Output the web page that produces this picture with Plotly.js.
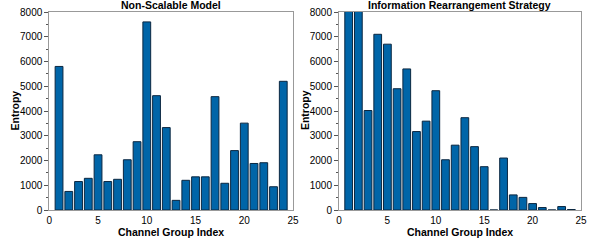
<!DOCTYPE html>
<html><head><meta charset="utf-8">
<script src="https://cdn.plot.ly/plotly-3.0.1.min.js"></script>
<style>html,body{margin:0;padding:0;background:#fff}#c{width:591px;height:241px}</style>
</head><body><div id="c"></div>
<script>
const groups = [1,2,3,4,5,6,7,8,9,10,11,12,13,14,15,16,17,18,19,20,21,22,23,24];
const nonScalable = [5800,750,1150,1280,2230,1150,1240,2030,2760,7600,4620,3330,390,1200,1340,1340,4580,1080,2400,3510,1880,1910,940,5200];
const rearranged = [9500,8800,4020,7100,6700,4900,5700,3170,3590,4820,2030,2620,3730,2560,1750,0,2100,610,510,260,100,0,140,20];
const titles = ["Non-Scalable Model","Information Rearrangement Strategy"];
const xTitle = "Channel Group Index";
const yTitle = "Entropy";
const xTickVals = [0,5,10,15,20,25];
const yTickVals = [0,1000,2000,3000,4000,5000,6000,7000,8000];

const barStyle = {color:'#0065a8', line:{color:'#0b2740', width:1}};
const traces = [
  {type:'bar', x:groups, y:nonScalable, width:0.8, marker:barStyle, xaxis:'x', yaxis:'y', hoverinfo:'none'},
  {type:'bar', x:groups, y:rearranged, width:0.8, marker:barStyle, xaxis:'x2', yaxis:'y2', hoverinfo:'none'}
];
const fontF = {family:'Liberation Sans, Arial, sans-serif', size:10, color:'#000'};
const titleF = {family:'Liberation Sans, Arial, sans-serif', size:10.5, color:'#000'};
function xa(domain, anchor){
  return {domain:domain, anchor:anchor, range:[0,25], tickvals:xTickVals, ticks:'', ticklabelstandoff:1,
    showline:true, linecolor:'#999', linewidth:1, mirror:true, showgrid:false, zeroline:false, tickfont:fontF};
}
function ya(domain, anchor){
  return {domain:domain, anchor:anchor, range:[0,8000], tickvals:yTickVals, ticks:'outside', ticklen:4, tickcolor:'#555',
    minor:{dtick:500, ticks:'outside', ticklen:2, tickcolor:'#555'}, showline:true, linecolor:'#999', linewidth:1, mirror:true,
    showgrid:false, zeroline:false, tickfont:fontF};
}
function ann(text, x, y, angle){
  return {text:'<b>'+text+'</b>', xref:'paper', yref:'paper', x:x, y:y, xanchor:'center', yanchor:'middle',
    textangle:angle||0, showarrow:false, font:titleF};
}
const layout = {
  width:591, height:241, margin:{l:0,r:0,t:0,b:0}, showlegend:false, paper_bgcolor:'#fff', plot_bgcolor:'#fff',
  xaxis: xa([0.0834,0.4958],'y'),
  yaxis: ya([0.1286,0.9502],'x'),
  xaxis2: xa([0.5736,0.9831],'y2'),
  yaxis2: ya([0.1286,0.9502],'x2'),
  annotations: [
    ann(titles[0], 0.2896, 0.978),
    ann(titles[1], 0.7783, 0.978),
    ann(xTitle, 0.2896, 0.038),
    ann(xTitle, 0.7783, 0.038),
    ann(yTitle, 0.026, 0.543, -90),
    ann(yTitle, 0.516, 0.543, -90)
  ]
};
Plotly.newPlot('c', traces, layout, {staticPlot:true, displayModeBar:false});
</script></body></html>
